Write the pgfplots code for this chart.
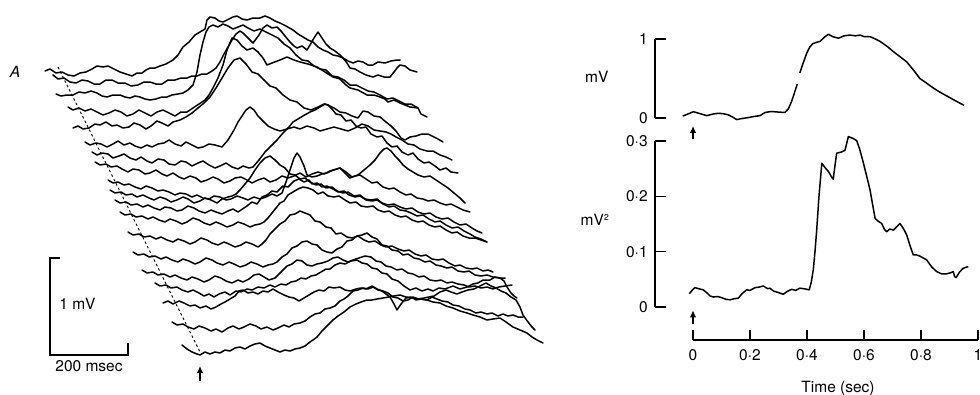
\documentclass[border=0pt]{standalone}
\usepackage{pgfplots}
\pgfplotsset{compat=1.18}
\usepackage{fontspec}
\setmainfont{TeX Gyre Heros}
\usetikzlibrary{arrows.meta}
\tikzset{tr/.style={black, line width=1.5pt, line join=round, line cap=round}}
\begin{document}
\fontsize{15.5}{18}\selectfont
\begin{tikzpicture}[x=1pt,y=1pt]
\useasboundingbox (0pt,0pt) rectangle (980pt,394pt);
% ---------------- Panel A: stacked single sweeps (positions in figure units, 1 mV = 97, 200 ms = 78) ----------
\begin{axis}[at={(0pt,0pt)},anchor=south west,scale only axis,width=600pt,height=394pt,
  xmin=0,xmax=600,ymin=0,ymax=394,y dir=reverse,hide axis,clip=false]
\addplot[tr] coordinates {(45,71)(50,69)(56,73)(62,72)(68,75)(74,76)(80,73)(86,72)(92,69)(97,66)(103,67)(108,66)(114,69)(120,72)(126,74)(132,76)(137,73)(142,73)(146,70)(150,68)(155,68)(160,66)(166,64)(173,60)(178,55)(183,47)(189,42)(195,35)(200,32)(205,29)(207,20)(210,17)(215,18)(219,21)(223,22)(229,19)(233,17)(237,16)(242,19)(247,20)(253,18)(260,18)(265,16)(270,18)(275,21)(280,23)(286,26)(293,30)(298,34)(303,37)(308,40)(313,42)(318,47)(323,50)(328,52)(333,55)(338,56)(343,58)(348,61)(353,63)(358,61)(363,62)(368,65)(373,65)(378,62)(385,63)(391,61)(397,60)(400,60)};
\addplot[tr] coordinates {(53,75)(58,79)(64,78)(70,82)(76,83)(82,80)(88,81)(94,84)(100,84)(106,80)(112,80)(118,83)(125,83)(131,86)(138,85)(144,82)(150,82)(156,84)(162,84)(168,80)(175,80)(181,78)(187,78)(192,76)(197,76)(202,74)(207,74)(212,71)(216,68)(220,62)(224,54)(228,47)(232,40)(236,34)(240,31)(243,33)(246,36)(250,40)(253,43)(256,39)(259,35)(263,28)(267,25)(272,28)(277,27)(281,31)(285,36)(290,42)(294,46)(297,48)(302,46)(307,50)(310,45)(314,38)(318,32)(322,38)(326,44)(330,48)(335,51)(340,55)(343,58)(347,63)(350,68)(355,69)(360,72)(366,75)(373,77)(378,75)(384,77)(390,77)(394,72)(397,68)(400,65)(405,66)(410,70)(417,72)};
\addplot[tr] coordinates {(56,94)(61,96)(67,95)(73,95)(79,92)(85,93)(91,91)(97,93)(102,96)(107,97)(113,95)(120,95)(125,97)(130,98)(135,96)(140,97)(145,99)(150,100)(156,99)(162,97)(167,97)(172,95)(178,94)(183,93)(188,90)(193,85)(197,72)(200,55)(203,42)(206,32)(209,27)(213,25)(218,27)(223,24)(228,26)(233,29)(238,27)(243,25)(248,28)(254,31)(260,29)(266,32)(272,35)(278,38)(284,44)(290,48)(296,55)(302,60)(308,61)(314,66)(320,69)(326,70)(332,76)(338,77)(344,80)(350,85)(356,85)(362,88)(368,91)(374,92)(380,95)(387,99)(393,98)(399,101)(405,104)(411,104)(418,108)};
\addplot[tr] coordinates {(68,107)(73,110)(79,108)(85,111)(91,109)(97,112)(103,115)(109,113)(115,110)(121,112)(127,116)(133,114)(139,110)(145,113)(151,116)(157,112)(163,110)(169,113)(175,116)(181,112)(187,112)(193,108)(199,104)(205,100)(209,95)(213,88)(218,78)(223,65)(227,50)(232,38)(237,40)(242,46)(247,50)(253,48)(258,52)(263,58)(267,65)(272,63)(280,60)(287,57)(294,60)(300,62)(308,64)(317,67)(325,72)(333,77)(340,79)(346,85)(350,88)(358,90)(367,95)(374,95)(380,97)(385,99)(388,102)(394,100)(400,103)(405,105)(410,107)(418,108)(421,114)(427,117)};
\addplot[tr] coordinates {(73,128)(78,126)(83,129)(89,128)(95,124)(100,125)(106,122)(112,126)(117,125)(123,128)(129,127)(134,123)(140,125)(146,129)(151,126)(157,121)(162,123)(168,126)(173,122)(180,120)(186,117)(192,113)(198,108)(204,103)(210,97)(216,88)(222,78)(228,68)(234,60)(240,58)(246,64)(252,72)(258,74)(264,80)(270,86)(276,88)(283,95)(290,100)(297,102)(304,108)(311,110)(318,107)(324,104)(328,105)(334,108)(340,112)(346,113)(352,116)(358,118)(363,111)(368,112)(374,116)(380,117)(386,122)(391,126)(396,131)(401,138)(405,140)(410,137)(416,136)(422,134)(428,134)(434,137)(438,139)(443,142)};
\addplot[tr] coordinates {(85,142)(90,145)(96,143)(101,144)(107,147)(113,144)(118,141)(124,145)(130,143)(135,146)(141,148)(147,145)(152,147)(158,144)(164,143)(169,140)(175,144)(181,146)(186,142)(192,145)(198,148)(203,147)(209,144)(215,145)(222,147)(228,140)(234,130)(238,122)(242,116)(246,110)(250,107)(254,110)(258,116)(263,121)(268,126)(274,129)(280,131)(287,129)(294,127)(300,129)(307,126)(314,128)(320,131)(327,129)(334,127)(341,129)(348,131)(355,128)(362,124)(368,126)(374,130)(380,131)(386,132)(391,134)(396,137)(402,140)(408,144)(414,145)(420,149)(427,151)(433,151)(440,155)(446,157)(452,160)};
\addplot[tr] coordinates {(92,152)(97,155)(102,153)(108,154)(113,158)(119,156)(124,154)(130,158)(136,160)(141,157)(147,161)(152,163)(158,159)(164,160)(169,164)(175,165)(181,161)(186,162)(192,166)(198,163)(203,161)(209,165)(215,168)(220,166)(226,163)(232,167)(238,169)(243,166)(249,168)(253,167)(259,160)(265,152)(271,146)(277,140)(283,133)(289,127)(293,122)(298,119)(303,116)(310,112)(315,110)(320,107)(325,104)(328,105)(332,109)(336,114)(341,115)(346,121)(351,120)(356,126)(361,128)(366,127)(371,134)(377,137)(382,136)(387,143)(392,147)(397,146)(402,152)(408,155)(413,153)(418,159)(424,163)(429,162)(435,166)(440,170)(446,168)(451,172)(458,173)};
\addplot[tr] coordinates {(95,162)(100,165)(106,164)(111,167)(117,166)(122,169)(128,172)(133,169)(139,170)(145,174)(150,173)(156,170)(162,174)(167,176)(173,173)(179,177)(184,179)(190,176)(196,178)(201,182)(207,180)(213,177)(218,179)(224,183)(230,181)(235,178)(241,177)(247,180)(252,183)(258,180)(264,178)(270,182)(276,180)(282,176)(288,178)(294,176)(300,173)(306,177)(312,174)(318,172)(324,174)(330,171)(334,170)(340,168)(346,172)(352,177)(358,175)(364,170)(370,165)(375,160)(380,153)(384,149)(387,148)(391,151)(395,156)(399,160)(403,165)(408,169)(413,172)(418,175)(424,177)(430,176)(436,180)(442,184)(448,188)(454,193)(460,198)(465,203)};
\addplot[tr] coordinates {(108,180)(113,183)(118,182)(124,185)(129,184)(135,187)(141,189)(146,186)(152,188)(158,191)(163,190)(169,192)(175,195)(180,193)(186,194)(192,197)(197,195)(203,198)(209,199)(214,196)(220,197)(226,200)(231,199)(237,196)(243,198)(248,200)(254,197)(260,199)(266,197)(272,194)(277,196)(282,193)(286,182)(290,170)(294,158)(297,153)(300,157)(304,166)(307,175)(312,177)(317,176)(322,174)(327,173)(333,170)(340,168)(345,173)(350,178)(355,176)(360,175)(366,179)(372,183)(377,182)(383,187)(389,189)(394,188)(400,192)(406,195)(411,194)(417,198)(423,199)(428,201)(434,200)(440,203)(446,205)(451,204)(457,207)(463,210)(470,212)};
\addplot[tr] coordinates {(110,190)(115,193)(121,192)(126,195)(132,194)(137,197)(143,195)(149,198)(154,200)(160,197)(166,199)(171,202)(177,200)(183,197)(188,199)(194,203)(200,201)(205,198)(211,200)(217,203)(222,199)(228,197)(232,196)(236,194)(240,190)(245,184)(250,178)(255,170)(260,163)(265,158)(270,156)(275,160)(280,165)(285,168)(290,174)(295,175)(300,179)(305,178)(310,182)(316,185)(321,184)(326,188)(332,187)(337,191)(343,193)(348,192)(354,196)(360,195)(365,199)(371,200)(377,199)(382,203)(388,205)(394,204)(400,207)(406,209)(412,208)(418,212)(424,214)(430,213)(436,217)(442,219)(448,218)(454,222)(460,225)(466,224)(472,228)(477,231)(482,233)};
\addplot[tr] coordinates {(115,200)(120,203)(126,202)(131,205)(137,204)(143,207)(148,205)(154,208)(160,210)(165,207)(171,208)(177,211)(182,210)(188,206)(194,208)(199,211)(205,213)(211,210)(216,212)(222,214)(228,211)(233,209)(238,212)(241,210)(247,206)(252,202)(257,204)(262,197)(267,195)(272,191)(277,192)(283,186)(288,187)(294,181)(299,179)(304,182)(309,180)(312,184)(317,183)(322,187)(327,186)(333,189)(338,192)(344,191)(349,195)(355,197)(360,196)(366,200)(372,201)(377,200)(383,204)(389,207)(394,206)(400,210)(406,211)(411,213)(417,216)(423,215)(429,219)(435,222)(440,221)(446,225)(452,228)(458,227)(464,231)(470,234)(475,237)(481,239)(487,242)};
\addplot[tr] coordinates {(120,212)(125,215)(131,214)(136,217)(142,216)(148,219)(153,217)(159,220)(165,222)(170,219)(176,221)(182,224)(187,222)(193,218)(199,220)(204,223)(210,225)(216,222)(221,224)(227,227)(233,225)(238,222)(244,224)(250,227)(255,225)(260,224)(264,222)(268,218)(272,213)(276,208)(280,203)(284,201)(288,195)(293,192)(298,189)(303,187)(308,188)(313,190)(318,194)(323,192)(328,196)(334,197)(339,196)(345,200)(350,203)(356,202)(361,206)(367,207)(373,206)(378,210)(384,212)(389,211)(395,215)(401,217)(406,216)(412,220)(418,222)(423,221)(429,225)(435,227)(440,226)(446,230)(452,233)(457,232)(463,236)(469,238)(475,238)(481,240)(487,242)};
\addplot[tr] coordinates {(128,232)(133,235)(139,234)(144,237)(150,236)(156,239)(161,237)(167,240)(173,242)(178,239)(184,241)(190,244)(195,242)(201,238)(207,240)(212,243)(218,245)(224,242)(229,244)(235,247)(241,245)(246,242)(252,244)(258,247)(262,244)(266,240)(270,234)(275,229)(280,224)(285,221)(290,215)(295,214)(300,211)(305,213)(310,215)(315,221)(320,222)(326,227)(331,228)(336,234)(341,233)(347,237)(352,238)(358,236)(364,240)(369,242)(375,241)(381,245)(386,247)(392,246)(398,249)(404,251)(409,250)(415,254)(421,256)(426,255)(432,259)(438,260)(443,259)(449,263)(455,266)(460,265)(466,268)(472,269)(477,268)(483,271)(488,270)(493,272)};
\addplot[tr] coordinates {(133,252)(138,255)(144,254)(149,257)(155,256)(161,259)(166,257)(172,260)(178,262)(183,259)(189,261)(195,264)(200,262)(206,258)(212,260)(217,263)(223,265)(229,262)(234,264)(240,267)(246,265)(251,262)(257,264)(263,267)(268,265)(273,264)(277,262)(282,257)(287,254)(292,248)(297,246)(302,242)(307,241)(312,244)(317,245)(322,250)(327,252)(332,253)(337,249)(342,247)(347,241)(352,240)(357,236)(362,235)(367,233)(372,237)(377,239)(382,245)(387,246)(392,250)(398,251)(403,255)(408,254)(414,258)(419,259)(425,262)(430,261)(436,265)(441,266)(447,268)(452,267)(458,271)(464,272)(469,271)(475,275)(481,276)(487,275)(493,277)(499,278)(505,278)};
\addplot[tr] coordinates {(142,270)(147,273)(153,272)(158,275)(164,274)(170,277)(175,275)(181,278)(187,280)(192,277)(198,279)(204,282)(209,280)(215,276)(221,278)(226,281)(232,283)(238,280)(243,282)(249,279)(254,275)(259,274)(264,277)(269,280)(275,278)(281,272)(287,266)(292,264)(297,260)(302,261)(307,265)(312,266)(317,264)(322,263)(328,261)(333,258)(338,257)(343,260)(348,262)(353,260)(359,258)(365,256)(371,257)(376,261)(381,262)(386,266)(391,267)(397,270)(402,269)(408,273)(413,274)(419,277)(424,276)(430,280)(436,281)(441,280)(447,283)(452,282)(458,284)(464,285)(469,287)(475,286)(481,288)(487,287)(493,289)(499,287)(505,286)(512,285)};
\addplot[tr] coordinates {(155,283)(160,286)(166,285)(171,288)(177,287)(182,290)(188,292)(193,290)(199,293)(204,296)(209,294)(214,297)(219,294)(225,292)(230,295)(236,291)(241,292)(247,289)(252,290)(258,287)(264,288)(270,285)(275,287)(281,284)(286,285)(291,282)(296,281)(301,278)(306,279)(311,276)(316,275)(321,272)(326,269)(330,269)(335,265)(340,263)(345,264)(351,261)(357,260)(362,263)(367,264)(372,268)(377,269)(382,273)(387,274)(392,279)(398,281)(404,286)(410,290)(416,288)(422,291)(428,289)(433,291)(439,288)(445,289)(453,286)(460,289)(467,287)(473,284)(478,283)(483,280)(490,280)(495,277)(500,278)(504,281)(507,287)(511,293)(514,296)(517,298)};
\addplot[tr] coordinates {(163,303)(168,301)(173,304)(179,301)(184,303)(190,306)(195,305)(200,308)(206,306)(211,309)(216,307)(221,304)(225,302)(230,299)(235,296)(239,291)(243,290)(248,293)(253,292)(258,294)(263,291)(268,292)(273,289)(278,292)(284,295)(289,297)(294,298)(299,301)(304,298)(309,295)(314,292)(319,290)(324,291)(329,287)(334,288)(340,287)(345,290)(350,291)(356,289)(361,288)(366,289)(372,286)(377,289)(382,291)(386,294)(390,297)(394,304)(397,310)(401,304)(406,298)(411,297)(416,300)(421,299)(427,300)(432,297)(437,299)(442,301)(448,302)(453,305)(459,306)(465,309)(470,310)(476,313)(481,312)(487,314)(492,313)(498,316)(503,314)(508,316)(513,315)(518,317)(523,317)};
\addplot[tr] coordinates {(172,322)(177,325)(183,324)(188,327)(194,329)(199,326)(205,328)(211,331)(216,329)(222,332)(228,328)(233,326)(239,329)(244,327)(250,324)(256,326)(261,329)(267,327)(273,330)(278,328)(284,325)(289,327)(294,324)(300,323)(305,321)(310,317)(315,314)(320,313)(325,309)(330,308)(335,306)(340,301)(344,299)(348,296)(353,291)(358,290)(363,288)(368,289)(373,287)(378,290)(383,291)(388,293)(393,297)(398,298)(403,301)(408,300)(413,297)(418,299)(424,298)(429,297)(434,296)(440,292)(446,290)(451,292)(457,294)(462,292)(468,290)(474,289)(480,286)(486,283)(491,286)(496,288)(501,291)(506,293)(511,297)(516,300)(520,307)(523,315)(528,322)(532,327)(535,330)};
\addplot[tr] coordinates {(182,345)(187,349)(192,352)(197,354)(200,355)(205,352)(210,354)(215,352)(220,353)(225,350)(230,351)(235,348)(240,347)(245,349)(250,346)(255,344)(260,343)(265,346)(270,348)(275,350)(280,352)(285,350)(290,351)(295,349)(300,348)(305,346)(310,342)(313,340)(317,337)(322,331)(327,326)(333,320)(338,316)(344,312)(350,307)(356,304)(361,302)(367,300)(372,300)(377,299)(383,298)(389,297)(394,296)(400,295)(406,297)(413,298)(420,299)(427,300)(433,302)(440,303)(446,306)(453,308)(460,311)(467,313)(473,315)(480,317)(487,320)(493,319)(500,318)(506,322)(513,327)(520,330)(527,333)(532,337)(537,340)(543,343)};
% stimulus line and arrow
\addplot[black,line width=0.9pt,dash pattern=on 2.5pt off 2.5pt] coordinates {(58,67)(200,352)};
\addplot[black,line width=1.4pt,-{Latex[length=7pt,width=6.5pt]}] coordinates {(200,381)(200,366)};
% calibration bars
\addplot[black,line width=1.5pt] coordinates {(60,258)(50,258)(50,355)(128,355)(128,343)};
\node[anchor=west] at (axis cs:54,304) {1 mV};
\node at (axis cs:89,366) {200 msec};
\node at (axis cs:15,72) {\textit{A}};
\end{axis}
% ---------------- averaged potential (mV) ----------------
\begin{axis}[at={(655pt,276pt)},anchor=south west,scale only axis,width=323pt,height=79pt,
  xmin=-0.13333,xmax=1,ymin=0,ymax=1,axis x line=none,axis y line*=left,
  xtick=\empty,ytick={0,1},yticklabels={0,1},ytick align=inside,major tick length=11pt,
  yticklabel style={xshift=-2pt},
  axis line style={line width=1.5pt},major tick style={line width=1.5pt,black},
  ylabel={mV},y label style={at={(axis description cs:-0.18,0.52)},rotate=-90,anchor=center},
  clip=false]
\addplot[black,line width=1.5pt,line join=round] coordinates {(-0.036,0.025)(-0.018,0.05)(0.001,0.08)(0.02,0.06)(0.048,0.03)(0.07,0.05)(0.089,0.06)(0.105,0.055)(0.124,0.04)(0.14,0.01)(0.153,-0.02)(0.175,-0.005)(0.194,0.005)(0.215,0.02)(0.235,0.03)(0.253,0.07)(0.27,0.08)(0.282,0.08)(0.3,0.075)(0.323,0.07)(0.335,0.12)(0.346,0.21)(0.356,0.32)(0.366,0.43)};
\addplot[black,line width=1.5pt,line join=round] coordinates {(0.375,0.57)(0.387,0.70)(0.399,0.82)(0.41,0.90)(0.42,0.94)(0.435,0.96)(0.446,0.97)(0.46,1.02)(0.475,1.06)(0.49,1.03)(0.51,1.01)(0.53,1.04)(0.551,1.05)(0.57,1.04)(0.586,1.05)(0.6,1.03)(0.621,1.03)(0.64,1.0)(0.656,0.97)(0.68,0.91)(0.703,0.84)(0.725,0.78)(0.75,0.71)(0.775,0.60)(0.796,0.50)(0.82,0.44)(0.843,0.38)(0.865,0.33)(0.89,0.28)(0.92,0.22)(0.951,0.16)};
\addplot[black,line width=1.4pt,-{Latex[length=7pt,width=6.5pt]}] coordinates {(0,-0.27)(0,-0.10)};
\end{axis}
% ---------------- averaged power (mV^2) ----------------
\begin{axis}[at={(655pt,87pt)},anchor=south west,scale only axis,width=323pt,height=166pt,
  xmin=-0.13333,xmax=1,ymin=0,ymax=0.3,axis x line=none,axis y line*=left,
  xtick=\empty,ytick={0,0.1,0.2,0.3},yticklabels={0,0·1,0·2,0·3},ytick align=inside,major tick length=11pt,
  yticklabel style={xshift=-2pt},
  axis line style={line width=1.5pt},major tick style={line width=1.5pt,black},
  ylabel={mV²},y label style={at={(axis description cs:-0.186,0.524)},rotate=-90,anchor=center},
  clip=false]
\addplot[black,line width=1.5pt,line join=round] coordinates {(-0.013,0.024)(0.0,0.032)(0.007,0.035)(0.02,0.033)(0.036,0.031)(0.05,0.025)(0.06,0.02)(0.071,0.018)(0.085,0.019)(0.1,0.017)(0.115,0.014)(0.13,0.013)(0.145,0.015)(0.159,0.016)(0.172,0.024)(0.188,0.031)(0.2,0.03)(0.218,0.035)(0.232,0.036)(0.247,0.038)(0.262,0.033)(0.27,0.034)(0.282,0.029)(0.3,0.026)(0.317,0.023)(0.33,0.028)(0.346,0.032)(0.36,0.03)(0.375,0.034)(0.39,0.033)(0.408,0.031)(0.415,0.045)(0.422,0.067)(0.428,0.10)(0.434,0.139)(0.442,0.2)(0.452,0.26)(0.463,0.252)(0.475,0.245)(0.485,0.236)(0.492,0.231)(0.498,0.255)(0.504,0.278)(0.52,0.28)(0.533,0.283)(0.54,0.297)(0.545,0.308)(0.56,0.305)(0.574,0.301)(0.585,0.285)(0.598,0.26)(0.61,0.235)(0.621,0.212)(0.632,0.18)(0.639,0.16)(0.65,0.155)(0.662,0.151)(0.672,0.14)(0.68,0.136)(0.69,0.141)(0.703,0.139)(0.715,0.145)(0.726,0.151)(0.738,0.142)(0.75,0.13)(0.762,0.11)(0.773,0.094)(0.785,0.094)(0.796,0.092)(0.81,0.088)(0.82,0.085)(0.838,0.072)(0.855,0.064)(0.872,0.06)(0.89,0.06)(0.905,0.062)(0.913,0.064)(0.918,0.055)(0.923,0.053)(0.935,0.063)(0.948,0.07)(0.966,0.073)};
\addplot[black,line width=1.4pt,-{Latex[length=7pt,width=6.5pt]}] coordinates {(0,-0.030)(0,-0.006)};
\end{axis}
% ---------------- time axis ----------------
\begin{axis}[at={(693pt,54pt)},anchor=south west,scale only axis,width=285pt,height=20pt,
  xmin=0,xmax=1,ymin=0,ymax=1,axis y line=none,axis x line*=bottom,ytick=\empty,
  xtick={0,0.2,0.4,0.6,0.8,1},xticklabels={0,0·2,0·4,0·6,0·8,1},xtick align=inside,major tick length=10pt,
  xticklabel style={yshift=-4pt},
  axis line style={line width=1.5pt},major tick style={line width=1.5pt,black},
  xlabel={Time (sec)},x label style={at={(axis description cs:0.509,-2.4)},anchor=center}]
\end{axis}
\end{tikzpicture}
\end{document}
